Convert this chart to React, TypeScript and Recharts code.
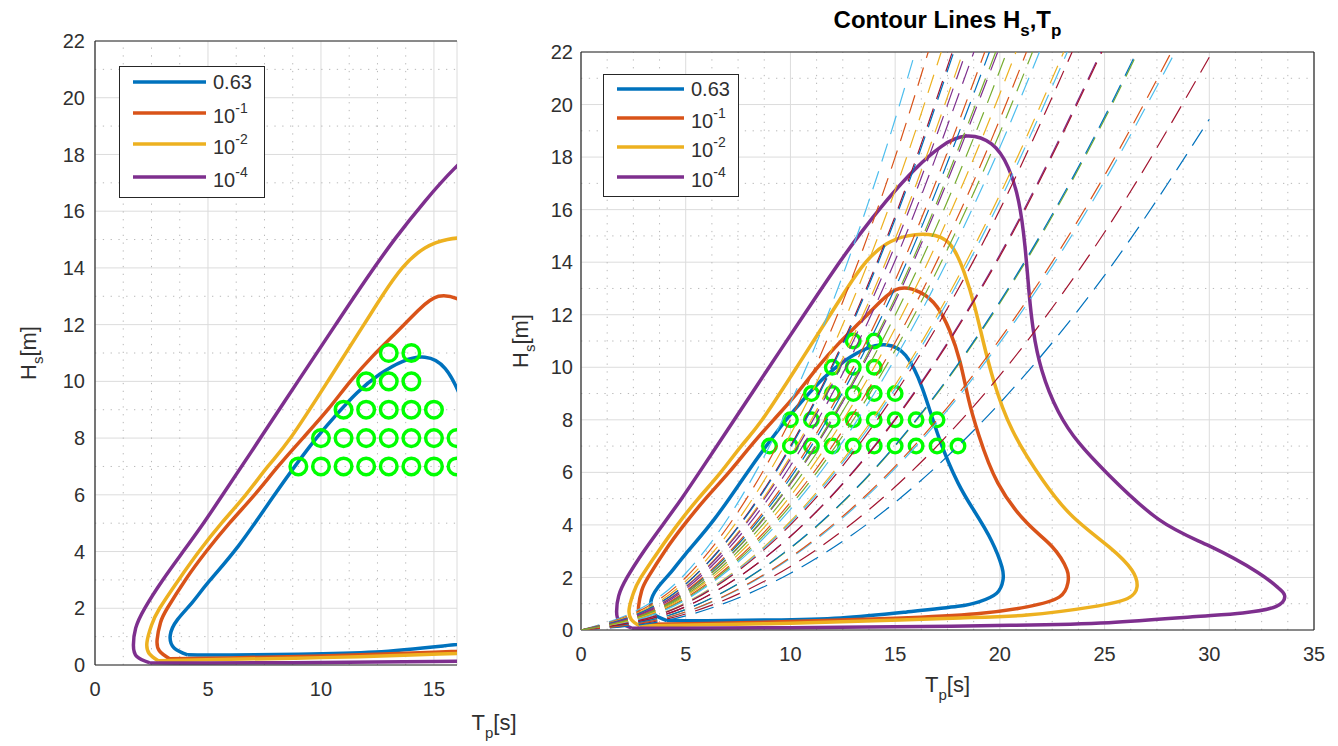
import React from 'react';
import { ComposedChart, Line, Scatter, XAxis, YAxis, CartesianGrid, ReferenceLine, Label } from 'recharts';

const FONT = '"Liberation Sans", Arial, Helvetica, sans-serif';
const INK = '#262626';
const TICK_INK = '#303030';
const MATLAB_ORDER = ['#0072BD', '#D95319', '#EDB120', '#7E2F8E', '#77AC30', '#4DBEEE', '#A2142F'];

// contour levels (probability of exceedance)
const levelColors = ['#0072BD', '#D95319', '#EDB120', '#7E2F8E'];

// closed contours, [Tp, Hs]
const contour063 = [
  [4.1, 0.36], [3.5, 0.6], [3.33, 1.05], [3.65, 1.6], [4.3, 2.2], [5.0, 2.9], [6.35, 4.2], [7.9, 5.95],
  [9.5, 7.7], [10.6, 8.75], [11.6, 9.6], [12.6, 10.25], [13.6, 10.7], [14.6, 10.85],
  [15.5, 10.45], [16.3, 9.2], [17.1, 7.3], [18.0, 5.6], [18.8, 4.5], [19.6, 3.4], [20.1, 2.4],
  [20.15, 1.9], [19.85, 1.4], [19.0, 1.07], [18.0, 0.9], [15.5, 0.68], [12.4, 0.46], [9.0, 0.38],
  [6.0, 0.35], [4.1, 0.36],
];
const contour1e1 = [
  [3.3, 0.22], [2.85, 0.5], [2.75, 0.9], [2.9, 1.5], [3.2, 2.0], [4.0, 3.0], [4.92, 4.0], [5.95, 5.0],
  [7.06, 6.0], [8.1, 7.0], [9.2, 8.0], [10.3, 9.0], [11.3, 10.0], [12.3, 10.9], [13.3, 11.7],
  [14.3, 12.5], [15.2, 13.0], [16.2, 12.85], [17.0, 12.3], [17.6, 11.4], [18.1, 10.2], [18.5, 8.8],
  [19.0, 7.4], [19.9, 5.6], [21.3, 4.07], [22.5, 3.17], [23.2, 2.3], [23.25, 1.8], [22.85, 1.26],
  [21.3, 0.88], [18.9, 0.62], [15.0, 0.45], [10.0, 0.32], [6.0, 0.25], [3.3, 0.22],
];
const contour1e2 = [
  [2.8, 0.15], [2.4, 0.4], [2.3, 0.8], [2.5, 1.4], [2.86, 2.0], [3.7, 3.0], [4.6, 4.0], [5.6, 5.0],
  [6.67, 6.0], [7.65, 7.0], [8.65, 8.0], [10.3, 10.0], [11.9, 12.0], [12.7, 13.0], [13.6, 14.0],
  [14.6, 14.7], [15.6, 15.0], [16.6, 15.05], [17.6, 14.7], [18.3, 13.6], [18.8, 12.3], [19.2, 11.0],
  [19.7, 9.5], [20.6, 7.6], [22.05, 5.7], [23.5, 4.3], [25.2, 3.17], [26.3, 2.28], [26.55, 1.64],
  [26.1, 1.2], [24.4, 0.88], [21.3, 0.57], [18.1, 0.46], [14.0, 0.35], [10.0, 0.26], [6.0, 0.2],
  [2.8, 0.15],
];
const contour1e4 = [
  [2.4, 0.08], [1.85, 0.3], [1.7, 0.7], [1.8, 1.3], [2.2, 2.0], [3.0, 3.0], [3.9, 4.0], [4.8, 5.0],
  [5.65, 6.0], [7.32, 8.0], [8.98, 10.0], [10.65, 12.0], [12.0, 13.6], [13.3, 15.05], [14.6, 16.35],
  [15.9, 17.5], [17.2, 18.4], [18.4, 18.8], [19.6, 18.5], [20.4, 17.6], [20.9, 16.3],
  [21.2, 14.6], [21.4, 12.8], [21.6, 11.4], [22.0, 9.9], [22.8, 8.3], [23.8, 7.1], [25.2, 5.9],
  [27.6, 4.2], [30.0, 3.2], [32.3, 2.2], [33.3, 1.6], [33.6, 1.3], [33.2, 0.9], [31.6, 0.65],
  [29.2, 0.5], [25.2, 0.28], [20.5, 0.18], [15.0, 0.12], [10.0, 0.09], [5.0, 0.07], [2.4, 0.08],
];
const contours = [contour063, contour1e1, contour1e2, contour1e4];

// selected sea states, [Tp, Hs]
const seaStates = [
  [9, 7], [10, 7], [11, 7], [12, 7], [13, 7], [14, 7], [15, 7], [16, 7], [17, 7], [18, 7],
  [10, 8], [11, 8], [12, 8], [13, 8], [14, 8], [15, 8], [16, 8], [17, 8],
  [11, 9], [12, 9], [13, 9], [14, 9], [15, 9],
  [12, 10], [13, 10], [14, 10],
  [13, 11], [14, 11],
];

// constant-steepness curves through each sea state, same order as seaStates
const steepCurves = [
  [[0, 0], [5, 2.16], [10, 8.64], [15, 19.44], [15.96, 22]],
  [[0, 0], [5, 1.75], [10, 7.0], [15, 15.75], [17.73, 22]],
  [[0, 0], [5, 1.45], [10, 5.79], [15, 13.02], [19.5, 22]],
  [[0, 0], [5, 1.22], [10, 4.86], [15, 10.94], [20, 19.44], [21.27, 22]],
  [[0, 0], [5, 1.04], [10, 4.14], [15, 9.32], [20, 16.57], [23.05, 22]],
  [[0, 0], [5, 0.89], [10, 3.57], [15, 8.04], [20, 14.29], [24.82, 22]],
  [[0, 0], [5, 0.78], [10, 3.11], [15, 7.0], [20, 12.44], [25, 19.44], [26.59, 22]],
  [[0, 0], [5, 0.68], [10, 2.73], [15, 6.15], [20, 10.94], [25, 17.09], [28.37, 22]],
  [[0, 0], [5, 0.61], [10, 2.42], [15, 5.45], [20, 9.69], [25, 15.14], [30, 21.8]],
  [[0, 0], [5, 0.54], [10, 2.16], [15, 4.86], [20, 8.64], [25, 13.5], [30, 19.44]],
  [[0, 0], [5, 2.0], [10, 8.0], [15, 18.0], [16.58, 22]],
  [[0, 0], [5, 1.65], [10, 6.61], [15, 14.88], [18.24, 22]],
  [[0, 0], [5, 1.39], [10, 5.56], [15, 12.5], [19.9, 22]],
  [[0, 0], [5, 1.18], [10, 4.73], [15, 10.65], [20, 18.93], [21.56, 22]],
  [[0, 0], [5, 1.02], [10, 4.08], [15, 9.18], [20, 16.33], [23.22, 22]],
  [[0, 0], [5, 0.89], [10, 3.56], [15, 8.0], [20, 14.22], [24.87, 22]],
  [[0, 0], [5, 0.78], [10, 3.13], [15, 7.03], [20, 12.5], [25, 19.53], [26.53, 22]],
  [[0, 0], [5, 0.69], [10, 2.77], [15, 6.23], [20, 11.07], [25, 17.3], [28.19, 22]],
  [[0, 0], [5, 1.86], [10, 7.44], [15, 16.74], [17.2, 22]],
  [[0, 0], [5, 1.56], [10, 6.25], [15, 14.06], [18.76, 22]],
  [[0, 0], [5, 1.33], [10, 5.33], [15, 11.98], [20, 21.3], [20.33, 22]],
  [[0, 0], [5, 1.15], [10, 4.59], [15, 10.33], [20, 18.37], [21.89, 22]],
  [[0, 0], [5, 1.0], [10, 4.0], [15, 9.0], [20, 16.0], [23.45, 22]],
  [[0, 0], [5, 1.74], [10, 6.94], [15, 15.63], [17.8, 22]],
  [[0, 0], [5, 1.48], [10, 5.92], [15, 13.31], [19.28, 22]],
  [[0, 0], [5, 1.28], [10, 5.1], [15, 11.48], [20, 20.41], [20.77, 22]],
  [[0, 0], [5, 1.63], [10, 6.51], [15, 14.64], [18.38, 22]],
  [[0, 0], [5, 1.4], [10, 5.61], [15, 12.63], [19.8, 22]],
];

const hsTicks = [0, 2, 4, 6, 8, 10, 12, 14, 16, 18, 20, 22];
const hsMinor = [1, 3, 5, 7, 9, 11, 13, 15, 17, 19, 21];
const tpTicksWide = [0, 5, 10, 15, 20, 25, 30, 35];
const tpTicksNarrow = [0, 5, 10, 15];
const tpMinor = [1.25, 2.5, 3.75, 6.25, 7.5, 8.75, 11.25, 12.5, 13.75, 16.25, 17.5, 18.75, 21.25, 22.5,
  23.75, 26.25, 27.5, 28.75, 31.25, 32.5, 33.75];

const toPts = (arr: number[][]) => arr.map(([t, h]) => ({ t, h }));
const ringData = toPts(seaStates);

const Ring = (props: any) => {
  const { cx, cy, r, w } = props;
  if (cx == null || cy == null) return null;
  return <circle cx={cx} cy={cy} r={r} fill="none" stroke="#00FF00" strokeWidth={w} />;
};

const tickStyle = { fill: TICK_INK, fontSize: 20, fontFamily: FONT };

type PanelProps = {
  width: number;
  height: number;
  margin: { top: number; right: number; bottom: number; left: number };
  tMax: number;
  tTicks: number[];
  yTickGap: number;
  ringR: number;
  ringW: number;
  withSteep: boolean;
  rightBorder: boolean;
  xLabelAt: [number, number];
  yLabelAt: [number, number];
  titleAt?: [number, number];
};

function ContourPanel(p: PanelProps) {
  const minor = tpMinor.filter((v) => v < p.tMax);
  return (
    <ComposedChart width={p.width} height={p.height} margin={p.margin}>
      <CartesianGrid stroke="#dcdcdc" strokeWidth={1} />
      {minor.map((v) => (
        <ReferenceLine key={'mx' + v} x={v} stroke="#b8b8b8" strokeDasharray="1.3 6.5" zIndex={-50} />
      ))}
      {hsMinor.map((v) => (
        <ReferenceLine key={'my' + v} y={v} stroke="#b8b8b8" strokeDasharray="1.3 6.5" zIndex={-50} />
      ))}
      <XAxis
        type="number"
        dataKey="t"
        domain={[0, p.tMax]}
        ticks={p.tTicks}
        interval={0}
        allowDataOverflow
        height={40}
        tickLine={false}
        tickSize={0}
        tickMargin={17}
        tick={tickStyle}
        axisLine={{ stroke: INK, strokeWidth: 1.2 }}
      >
        <Label
          content={() => (
            <text x={p.xLabelAt[0]} y={p.xLabelAt[1]} textAnchor="middle" fontFamily={FONT} fontSize={22} fill={TICK_INK}>
              <tspan>T</tspan>
              <tspan dy={8} fontSize={15}>p</tspan>
              <tspan dy={-8}>[s]</tspan>
            </text>
          )}
        />
      </XAxis>
      <XAxis
        xAxisId="bottomTicks"
        type="number"
        domain={[0, p.tMax]}
        ticks={p.tTicks}
        interval={0}
        allowDataOverflow
        orientation="bottom"
        mirror
        tick={false}
        tickSize={5}
        axisLine={false}
        tickLine={{ stroke: INK }}
      />
      <XAxis
        xAxisId="top"
        type="number"
        domain={[0, p.tMax]}
        ticks={p.tTicks}
        interval={0}
        allowDataOverflow
        orientation="top"
        mirror
        tick={false}
        tickSize={5}
        axisLine={{ stroke: INK, strokeWidth: 1.2 }}
        tickLine={{ stroke: INK }}
      >
        {p.titleAt && (
          <Label
            content={() => (
              <text x={p.titleAt![0]} y={p.titleAt![1]} textAnchor="middle" fontFamily={FONT} fontSize={24} fontWeight="bold" fill="#000">
                <tspan>Contour Lines H</tspan>
                <tspan dy={8} fontSize={17}>s</tspan>
                <tspan dy={-8}>,T</tspan>
                <tspan dy={8} fontSize={17}>p</tspan>
              </text>
            )}
          />
        )}
      </XAxis>
      <YAxis
        type="number"
        dataKey="h"
        domain={[0, 22]}
        ticks={hsTicks}
        interval={0}
        allowDataOverflow
        width={60}
        tickLine={false}
        tickSize={0}
        tickMargin={p.yTickGap}
        tick={tickStyle}
        axisLine={{ stroke: INK, strokeWidth: 1.2 }}
      >
        <Label
          content={() => (
            <text
              x={p.yLabelAt[0]}
              y={p.yLabelAt[1]}
              transform={`rotate(-90, ${p.yLabelAt[0]}, ${p.yLabelAt[1]})`}
              textAnchor="middle"
              fontFamily={FONT}
              fontSize={22}
              fill={TICK_INK}
            >
              <tspan>H</tspan>
              <tspan dy={7} fontSize={15}>s</tspan>
              <tspan dy={-7}>[m]</tspan>
            </text>
          )}
        />
      </YAxis>
      <YAxis
        yAxisId="leftTicks"
        type="number"
        domain={[0, 22]}
        ticks={hsTicks}
        interval={0}
        allowDataOverflow
        mirror
        tick={false}
        tickSize={5}
        axisLine={false}
        tickLine={{ stroke: INK }}
      />
      {p.rightBorder && (
        <YAxis
          yAxisId="right"
          type="number"
          domain={[0, 22]}
          ticks={hsTicks}
          interval={0}
          allowDataOverflow
          orientation="right"
          mirror
          tick={false}
          tickSize={5}
          axisLine={{ stroke: INK, strokeWidth: 1.2 }}
          tickLine={{ stroke: INK }}
        />
      )}

      {contours.map((c, i) => (
        <Line
          key={'c' + i}
          data={toPts(c)}
          dataKey="h"
          type="natural"
          stroke={levelColors[i]}
          strokeWidth={3.5}
          dot={false}
          activeDot={false}
          isAnimationActive={false}
        />
      ))}
      <Scatter
        data={ringData}
        dataKey="h"
        shape={(s: any) => <Ring {...s} r={p.ringR} w={p.ringW} />}
        isAnimationActive={false}
      />
      {p.withSteep &&
        steepCurves.map((c, i) => (
          <Line
            key={'s' + i}
            data={toPts(c)}
            dataKey="h"
            type="monotone"
            stroke={MATLAB_ORDER[(5 + i) % 7]}
            strokeWidth={1.2}
            strokeDasharray="19 10"
            dot={false}
            activeDot={false}
            isAnimationActive={false}
            zIndex={700}
          />
        ))}
    </ComposedChart>
  );
}

type LegendProps = { left: number; top: number; width: number; height: number; rowY: number[]; x0: number; x1: number; tx: number };

function ContourLegend(l: LegendProps) {
  const labels = [
    { base: '0.63', exp: '' },
    { base: '10', exp: '-1' },
    { base: '10', exp: '-2' },
    { base: '10', exp: '-4' },
  ];
  return (
    <div style={{ position: 'absolute', left: l.left, top: l.top, width: l.width, height: l.height, boxSizing: 'border-box', border: `1.3px solid ${INK}`, background: '#fff' }}>
      <svg width={l.width} height={l.height} style={{ position: 'absolute', left: -1.3, top: -1.3 }}>
        {labels.map((lb, i) => (
          <g key={i}>
            <line x1={l.x0} x2={l.x1} y1={l.rowY[i]} y2={l.rowY[i]} stroke={levelColors[i]} strokeWidth={3.5} />
            <text x={l.tx} y={l.rowY[i] + (lb.exp ? 10 : 7)} fontFamily={FONT} fontSize={20} fill={TICK_INK}>
              <tspan>{lb.base}</tspan>
              {lb.exp && (
                <tspan dy={-10} fontSize={14}>
                  {lb.exp}
                </tspan>
              )}
            </text>
          </g>
        ))}
      </svg>
    </div>
  );
}

export default function App() {
  return (
    <div style={{ position: 'absolute', left: 0, top: 0, width: 1338, height: 746, background: '#fff', overflow: 'hidden' }}>
      <div style={{ position: 'absolute', left: 0, top: 0 }}>
        <ContourPanel
          width={560}
          height={746}
          margin={{ top: 41, right: 103, bottom: 41, left: 35 }}
          tMax={16.02}
          tTicks={tpTicksNarrow}
          yTickGap={10}
          ringR={8.3}
          ringW={3.5}
          withSteep={false}
          rightBorder={false}
          xLabelAt={[494, 730]}
          yLabelAt={[36, 353]}
        />
      </div>
      <div style={{ position: 'absolute', left: 480, top: 0 }}>
        <ContourPanel
          width={858}
          height={746}
          margin={{ top: 52, right: 24, bottom: 76, left: 41 }}
          tMax={35}
          tTicks={tpTicksWide}
          yTickGap={8}
          ringR={6.8}
          ringW={3.4}
          withSteep
          rightBorder
          xLabelAt={[467.5, 692]}
          yLabelAt={[48, 341]}
          titleAt={[467.5, 28]}
        />
      </div>
      <ContourLegend left={119} top={66} width={146} height={132} rowY={[16, 47, 78, 111]} x0={14} x1={87} tx={94} />
      <ContourLegend left={603} top={74} width={136} height={123} rowY={[15, 44, 73, 103]} x0={14} x1={81} tx={88} />
    </div>
  );
}
